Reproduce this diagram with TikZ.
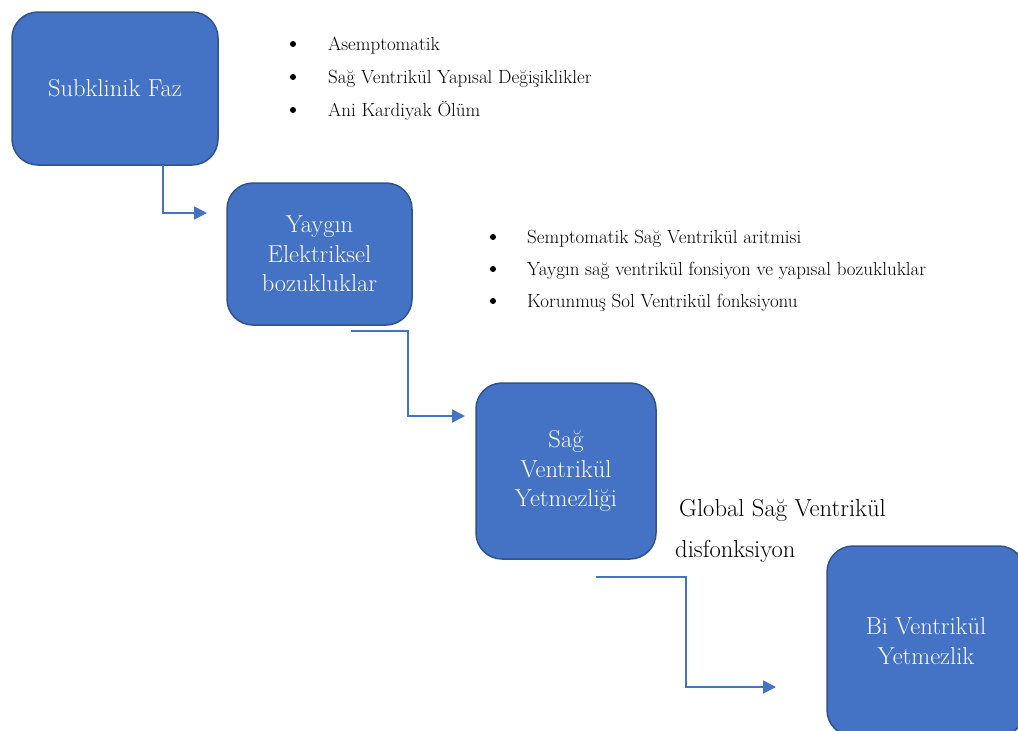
\documentclass[tikz,border=0pt]{standalone}
\usepackage{fontspec}
\usetikzlibrary{arrows.meta}
\definecolor{boxblue}{HTML}{4472C4}
\definecolor{boxedge}{HTML}{2F528F}
\begin{document}
\begin{tikzpicture}[x=1pt,y=-1pt,
  stage/.style={draw=boxedge, line width=1.5pt, fill=boxblue, rounded corners=26pt,
    text=white, font=\fontsize{24.5}{29.5}\selectfont, align=center, inner sep=0pt},
  link/.style={draw=boxblue, line width=1.8pt, -{Triangle[length=13pt,width=13pt]}},
  item/.style={anchor=base west, inner sep=0pt, font=\fontsize{19}{22}\selectfont},
  dot/.style={circle, fill=black, inner sep=0pt, minimum size=6pt},
  note/.style={anchor=base west, inner sep=0pt, font=\fontsize{24.6}{28}\selectfont}]
\useasboundingbox (0,0) rectangle (1018,731);
\clip (0,0) rectangle (1018,731);
\fill[white] (0,0) rectangle (1018,731);

% stage boxes
\node[stage, minimum width=206pt, minimum height=153pt] (b1) at (115,88.5) {Subklinik Faz};
\node[stage, minimum width=185pt, minimum height=142pt] (b2) at (319.5,254) {Yaygın\\Elektriksel\\bozukluklar};
\node[stage, minimum width=180pt, minimum height=176pt] (b3) at (566,471) {Sağ\\Ventrikül\\Yetmezliği};
\node[stage, minimum width=198pt, minimum height=190pt] (b4) at (926,641) {Bi Ventrikül\\Yetmezlik};

% bullet list 1
\node[dot] (d11) at (293,44) {};
\node[dot] (d12) at (293,77) {};
\node[dot] (d13) at (293,110) {};
\node[item] (t11) at (328,50) {Asemptomatik};
\node[item] (t12) at (328,83) {Sağ Ventrikül Yapısal Değişiklikler};
\node[item] (t13) at (328,116) {Ani Kardiyak Ölüm};

% bullet list 2
\node[dot] (d21) at (493,237) {};
\node[dot] (d22) at (493,269) {};
\node[dot] (d23) at (493,301) {};
\node[item] (t21) at (527,243) {Semptomatik Sağ Ventrikül aritmisi};
\node[item] (t22) at (527,275) {Yaygın sağ ventrikül fonsiyon ve yapısal bozukluklar};
\node[item] (t23) at (527,307) {Korunmuş Sol Ventrikül fonksiyonu};

% note
\node[note] (n1) at (679,516) {Global Sağ Ventrikül};
\node[note] (n2) at (675,557) {disfonksiyon};

% connectors
\coordinate (s1) at (163,165);
\coordinate (e1) at (207,213);
\coordinate (s2) at (351,331);
\coordinate (k2) at (408,331);
\coordinate (e2) at (465,416);
\coordinate (s3) at (596,577);
\coordinate (k3) at (686,577);
\coordinate (e3) at (776,687);
\draw[link] (s1) |- (e1);
\draw[link] (s2) -- (k2) |- (e2);
\draw[link] (s3) -- (k3) |- (e3);
\end{tikzpicture}
\end{document}
